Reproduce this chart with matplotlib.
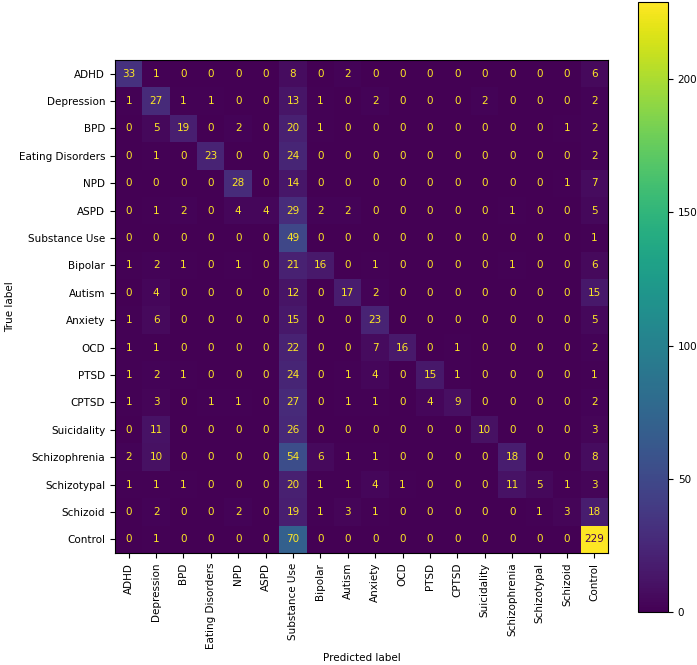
import matplotlib
matplotlib.use('Agg')
import matplotlib.pyplot as plt
import numpy as np


labels = ['ADHD', 'Depression', 'BPD', 'Eating Disorders', 'NPD', 'ASPD',
          'Substance Use', 'Bipolar', 'Autism', 'Anxiety', 'OCD', 'PTSD',
          'CPTSD', 'Suicidality', 'Schizophrenia', 'Schizotypal', 'Schizoid',
          'Control']

row_adhd = [33, 1, 0, 0, 0, 0, 8, 0, 2, 0, 0, 0, 0, 0, 0, 0, 0, 6]
row_depression = [1, 27, 1, 1, 0, 0, 13, 1, 0, 2, 0, 0, 0, 2, 0, 0, 0, 2]
row_bpd = [0, 5, 19, 0, 2, 0, 20, 1, 0, 0, 0, 0, 0, 0, 0, 0, 1, 2]
row_eating = [0, 1, 0, 23, 0, 0, 24, 0, 0, 0, 0, 0, 0, 0, 0, 0, 0, 2]
row_npd = [0, 0, 0, 0, 28, 0, 14, 0, 0, 0, 0, 0, 0, 0, 0, 0, 1, 7]
row_aspd = [0, 1, 2, 0, 4, 4, 29, 2, 2, 0, 0, 0, 0, 0, 1, 0, 0, 5]
row_substance = [0, 0, 0, 0, 0, 0, 49, 0, 0, 0, 0, 0, 0, 0, 0, 0, 0, 1]
row_bipolar = [1, 2, 1, 0, 1, 0, 21, 16, 0, 1, 0, 0, 0, 0, 1, 0, 0, 6]
row_autism = [0, 4, 0, 0, 0, 0, 12, 0, 17, 2, 0, 0, 0, 0, 0, 0, 0, 15]
row_anxiety = [1, 6, 0, 0, 0, 0, 15, 0, 0, 23, 0, 0, 0, 0, 0, 0, 0, 5]
row_ocd = [1, 1, 0, 0, 0, 0, 22, 0, 0, 7, 16, 0, 1, 0, 0, 0, 0, 2]
row_ptsd = [1, 2, 1, 0, 0, 0, 24, 0, 1, 4, 0, 15, 1, 0, 0, 0, 0, 1]
row_cptsd = [1, 3, 0, 1, 1, 0, 27, 0, 1, 1, 0, 4, 9, 0, 0, 0, 0, 2]
row_suicidality = [0, 11, 0, 0, 0, 0, 26, 0, 0, 0, 0, 0, 0, 10, 0, 0, 0, 3]
row_schizophrenia = [2, 10, 0, 0, 0, 0, 54, 6, 1, 1, 0, 0, 0, 0, 18, 0, 0, 8]
row_schizotypal = [1, 1, 1, 0, 0, 0, 20, 1, 1, 4, 1, 0, 0, 0, 11, 5, 1, 3]
row_schizoid = [0, 2, 0, 0, 2, 0, 19, 1, 3, 1, 0, 0, 0, 0, 0, 1, 3, 18]
row_control = [0, 1, 0, 0, 0, 0, 70, 0, 0, 0, 0, 0, 0, 0, 0, 0, 0, 229]


def plot_confusion(fig, matrix):
    ax = fig.add_axes([115 / 697, 1 - 553 / 665, 493 / 697, 493 / 665])
    cax = fig.add_axes([638 / 697, 1 - 612 / 665, 30 / 697, 610 / 665])

    cmap = plt.get_cmap('viridis')
    im = ax.imshow(matrix, cmap=cmap, interpolation='nearest')

    # sklearn style: light text on dark cells, dark text on light ones
    thresh = (matrix.max() + matrix.min()) / 2.0
    for i in range(matrix.shape[0]):
        for j in range(matrix.shape[1]):
            color = cmap(0.0) if matrix[i, j] > thresh else cmap(1.0)
            ax.text(j, i, str(matrix[i, j]), ha='center', va='center',
                    color=color, fontsize=7.5)

    ax.set_xticks(np.arange(len(labels)))
    ax.set_yticks(np.arange(len(labels)))
    ax.set_xticklabels(labels, rotation=90, fontsize=7.5)
    ax.set_yticklabels(labels, fontsize=7.5)
    ax.set_xlabel('Predicted label', fontsize=7.5, labelpad=3)
    ax.set_ylabel('True label', fontsize=7.5, labelpad=3)

    cb = fig.colorbar(im, cax=cax)
    cb.set_ticks([0, 50, 100, 150, 200])
    cb.ax.tick_params(labelsize=7.5)


def main():
    matrix = np.array([row_adhd, row_depression, row_bpd, row_eating, row_npd,
                       row_aspd, row_substance, row_bipolar, row_autism,
                       row_anxiety, row_ocd, row_ptsd, row_cptsd,
                       row_suicidality, row_schizophrenia, row_schizotypal,
                       row_schizoid, row_control])

    fig = plt.figure(figsize=(6.97, 6.65), dpi=100)
    plot_confusion(fig, matrix)
    plt.savefig('out.png', dpi=100)


if __name__ == '__main__':
    main()
